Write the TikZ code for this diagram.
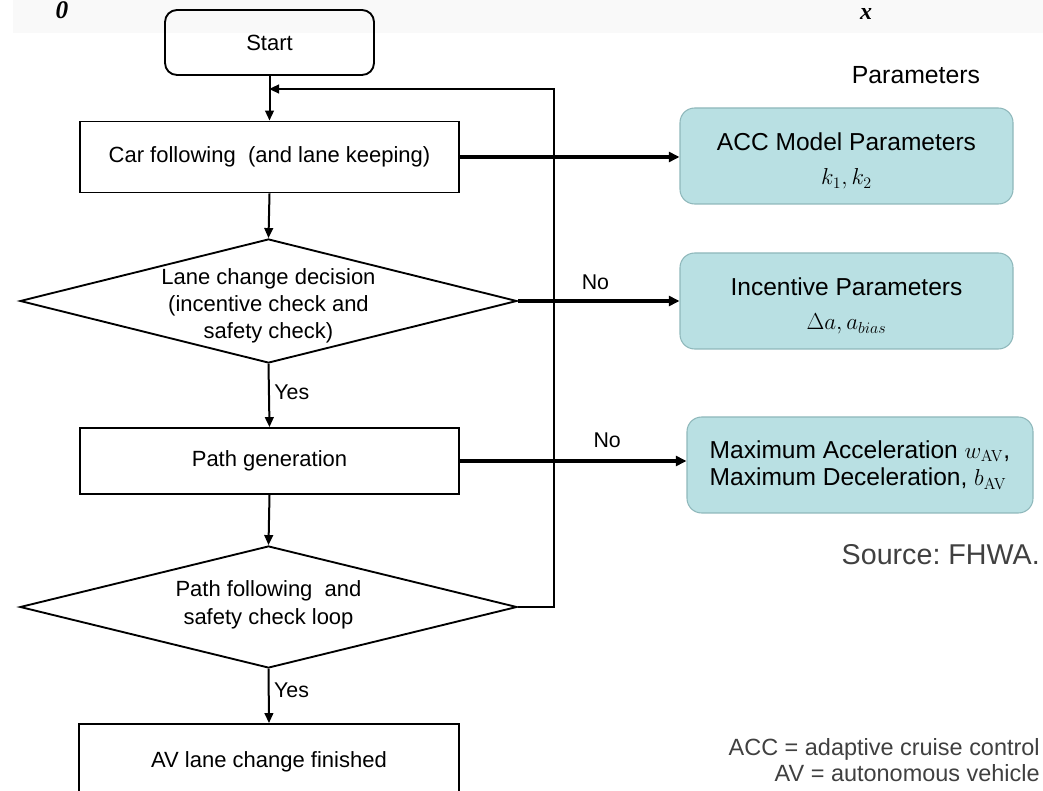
\documentclass[tikz,border=0pt]{standalone}
\usepackage[no-math]{fontspec}
\setmainfont{Liberation Sans}
\newfontfamily\axisfont{Liberation Serif}
\usetikzlibrary{shapes.geometric,arrows.meta}
\definecolor{parfill}{HTML}{B9E0E3}
\definecolor{pardraw}{HTML}{8FB8BB}
\definecolor{notegray}{HTML}{404040}
\definecolor{bandgray}{HTML}{F9F9F9}
\frenchspacing
\begin{document}
\begin{tikzpicture}[x=0.75pt,y=-0.75pt,
  flowtext/.style={font=\fontsize{16.5}{20}\selectfont, align=center},
  procbox/.style={draw, line width=1.4pt, inner sep=0pt, minimum width=284.25pt, flowtext},
  startbox/.style={procbox, rounded corners=9pt, minimum width=156.75pt, minimum height=48.75pt},
  decision/.style={draw, line width=1.4pt, diamond, inner sep=0pt, minimum width=372.75pt},
  parbox/.style={draw=pardraw, line width=0.8pt, fill=parfill, rounded corners=11pt,
    inner sep=0pt, minimum height=72pt, align=center, font=\fontsize{18.4}{25.5}\selectfont},
  flow/.style={line width=1.5pt, -{Triangle[length=7.5pt,width=6.5pt]}},
  parflow/.style={line width=2.6pt, -{Triangle[length=8pt,width=7.5pt]}},
  edgelabel/.style={font=\fontsize{16}{19}\selectfont},
  note/.style={text=notegray, inner sep=0pt}
]
\useasboundingbox (0,0) rectangle (1043,791);
\clip (0,0) rectangle (1043,791);
\fill[bandgray] (13,0) rectangle (1043,33);
\node[inner sep=0pt, anchor=north] (axo) at (62,1) {\axisfont\fontsize{19}{19}\selectfont\bfseries\itshape 0};
\node[inner sep=0pt, anchor=north] (axx) at (866,8) {\axisfont\fontsize{18}{18}\selectfont\bfseries\itshape x};

% main flow
\node[startbox] (start) at (269.5,42.5) {Start};
\node[procbox, minimum height=53.25pt] (carf) at (269.5,157) {Car following\ \ (and lane keeping)};
\node[decision, minimum height=93pt] (dec1) at (268.5,301) {};
\node[flowtext, inner sep=0pt] (dec1t) at ([yshift=-3.5pt]dec1.center) {Lane change decision\\(incentive check and\\safety check)};
\node[procbox, minimum height=49.5pt] (pathgen) at (269.5,461) {Path generation};
\node[decision, minimum height=91.5pt] (dec2) at (268.5,607) {};
\node[flowtext, inner sep=0pt, font=\fontsize{16.5}{21}\selectfont] (dec2t) at ([yshift=2]dec2.center) {Path following\ \ and\\safety check loop};
\node[procbox, minimum height=57pt, minimum width=285pt] (final) at (269,762) {AV lane change finished};

% parameter boxes
\node[inner sep=0pt, font=\fontsize{18.6}{20}\selectfont] (partitle) at (916,75) {Parameters};
\node[parbox, minimum width=249.75pt] (acc) at (846.5,156) {\rule{0pt}{21pt}ACC Model Parameters\\$k_1, k_2$};
\node[parbox, minimum width=249.75pt] (inc) at (846.5,301) {\rule{0pt}{21pt}Incentive Parameters\\$\Delta a, a_{bias}$};
\node[parbox, minimum width=259.5pt, align=left, font=\fontsize{18.4}{20.5}\selectfont] (maxb) at (860,465)
  {Maximum Acceleration $w_{\mathrm{AV}}$,\\Maximum Deceleration, $b_{\mathrm{AV}}$};

% notes
\node[note, anchor=east, font=\fontsize{21.5}{24}\selectfont] (src) at (1040,555) {Source: FHWA.};
\node[note, anchor=east, align=right, font=\fontsize{17.6}{19.5}\selectfont] (abbr) at (1040,760)
  {ACC = adaptive cruise control\\AV = autonomous vehicle};

% connectors
\coordinate (loopin) at (269,89);
\coordinate (looptop) at (554,89);
\draw[flow] (start.south) -- (carf.north);
\draw[flow] (carf.south) -- (dec1.north);
\draw[flow] (dec1.south) -- node[edgelabel, right, pos=0.45] {Yes} (pathgen.north);
\draw[flow] (pathgen.south) -- (dec2.north);
\draw[flow] (dec2.south) -- node[edgelabel, right, pos=0.4] {Yes} (final.north);
\draw[flow] (dec2.east) -- (looptop |- dec2.east) -- (looptop) -- (loopin);

\draw[parflow] (carf.east) -- (carf.east -| acc.west);
\draw[parflow] (dec1.east) -- node[edgelabel, above=4pt, pos=0.48] {No} (inc.west);
\draw[parflow] (pathgen.east) -- node[edgelabel, above=5pt, pos=0.65] {No} (pathgen.east -| maxb.west);
\end{tikzpicture}
\end{document}
